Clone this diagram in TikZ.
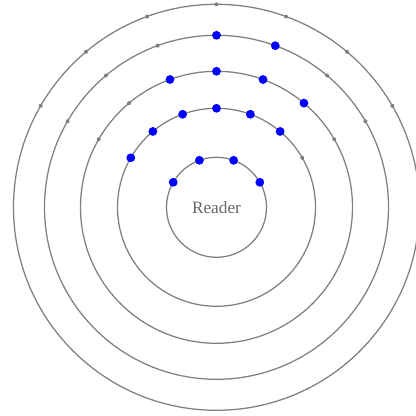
\documentclass[tikz,border=0pt]{standalone}
\usepackage{fontspec}
\setmainfont{Liberation Serif}
\begin{document}
\begin{tikzpicture}[
  ring/.style={draw=gray, line width=0.9pt},
  hit/.style={fill=blue},
  miss/.style={fill=gray}]
  \useasboundingbox (-5.4125,-5.2175) rectangle (4.9875,5.1825);
  % aneis
  \foreach \r in {1.25,2.475,3.4,4.3,5.075}
    \draw[ring] (0,0) circle (\r);
  % leitor
  \node[font=\fontsize{12.3}{14}\selectfont, text=black!60] (reader) at (0,0) {Reader};
  % anel 1
  \foreach \a in {30,70,110,150}
    \fill[hit] (\a:1.25) circle (0.11);
  % anel 2
  \foreach \a in {50,70,...,150}
    \fill[hit] (\a:2.475) circle (0.11);
  \fill[miss] (30:2.475) circle (0.05);
  % anel 3
  \foreach \a in {50,70,90,110}
    \fill[hit] (\a:3.4) circle (0.11);
  \foreach \a in {30,130,150}
    \fill[miss] (\a:3.4) circle (0.05);
  % anel 4
  \foreach \a in {70,90}
    \fill[hit] (\a:4.3) circle (0.11);
  \foreach \a in {30,50,110,130,150}
    \fill[miss] (\a:4.3) circle (0.05);
  % anel 5
  \foreach \a in {30,50,...,150}
    \fill[miss] (\a:5.075) circle (0.05);
\end{tikzpicture}
\end{document}
